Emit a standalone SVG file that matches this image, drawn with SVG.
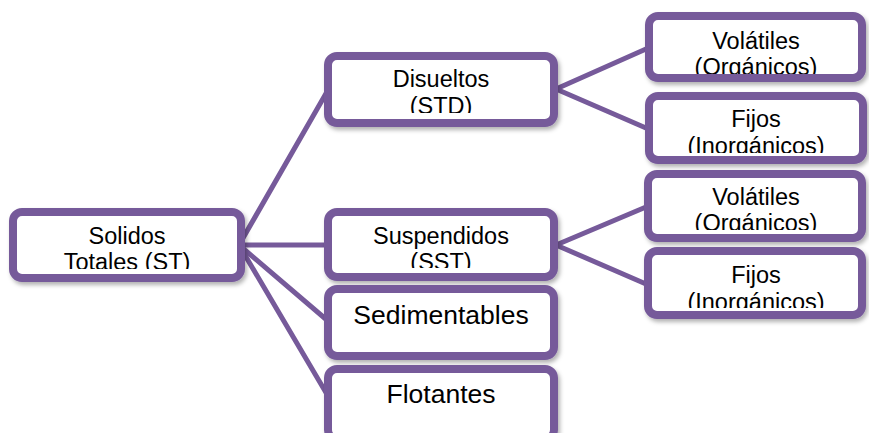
<svg xmlns="http://www.w3.org/2000/svg" width="869" height="433" viewBox="0 0 869 433">
<style>
.box{fill:#fff;stroke:#765a9a;stroke-width:8}
.t{font-family:"Liberation Sans",Arial,sans-serif;font-size:23.5px;fill:#000;text-anchor:middle}
.tb{font-family:"Liberation Sans",Arial,sans-serif;font-size:26.5px;fill:#000;text-anchor:middle}
.c{stroke:#765a9a;stroke-width:5;fill:none;stroke-linecap:round}
</style>
<defs>
<filter id="sh" x="-10%" y="-10%" width="125%" height="135%">
<feDropShadow dx="2" dy="3" stdDeviation="2" flood-color="#000" flood-opacity="0.3"/>
</filter>
<clipPath id="cST"><rect x="17" y="216" width="220" height="53"/></clipPath>
<clipPath id="cSTD"><rect x="331" y="58" width="220" height="55"/></clipPath>
<clipPath id="cSST"><rect x="331" y="216" width="220" height="52"/></clipPath>
<clipPath id="cV1"><rect x="651" y="18" width="210" height="56"/></clipPath>
<clipPath id="cF1"><rect x="651" y="98" width="210" height="55"/></clipPath>
<clipPath id="cV2"><rect x="651" y="176" width="210" height="54"/></clipPath>
<clipPath id="cF2"><rect x="651" y="253" width="210" height="55"/></clipPath>
</defs>
<g id="connectors">
<line class="c" x1="239" y1="245" x2="328" y2="90"/>
<line class="c" x1="239" y1="245" x2="328" y2="245"/>
<line class="c" x1="239" y1="245" x2="328" y2="321"/>
<line class="c" x1="239" y1="245" x2="328" y2="396"/>
<line class="c" x1="556" y1="89" x2="646" y2="49"/>
<line class="c" x1="556" y1="89" x2="646" y2="128"/>
<line class="c" x1="556" y1="245" x2="646" y2="207"/>
<line class="c" x1="556" y1="245" x2="646" y2="284"/>
</g>
<g id="solidos">
<rect class="box" filter="url(#sh)" x="13" y="212" width="228" height="66" rx="9"/>
<g clip-path="url(#cST)"><text class="t" x="127" y="244">Solidos</text><text class="t" x="127" y="270">Totales (ST)</text></g>
</g>
<g id="disueltos">
<rect class="box" filter="url(#sh)" x="328" y="56" width="226" height="67" rx="9"/>
<g clip-path="url(#cSTD)"><text class="t" x="441" y="87">Disueltos</text><text class="t" x="441" y="114">(STD)</text></g>
</g>
<g id="suspendidos">
<rect class="box" filter="url(#sh)" x="328" y="212" width="226" height="65" rx="9"/>
<g clip-path="url(#cSST)"><text class="t" x="441" y="244">Suspendidos</text><text class="t" x="441" y="270">(SST)</text></g>
</g>
<g id="sedimentables">
<rect class="box" filter="url(#sh)" x="328" y="289" width="226" height="67" rx="9"/>
<text class="tb" x="441" y="324">Sedimentables</text>
</g>
<g id="flotantes">
<rect class="box" filter="url(#sh)" x="328" y="369" width="226" height="70" rx="9"/>
<text class="tb" x="441" y="403">Flotantes</text>
</g>
<g id="volatiles1">
<rect class="box" filter="url(#sh)" x="649" y="16" width="213" height="62" rx="9"/>
<g clip-path="url(#cV1)"><text class="t" x="756" y="49">Volátiles</text><text class="t" x="756" y="75">(Orgánicos)</text></g>
</g>
<g id="fijos1">
<rect class="box" filter="url(#sh)" x="649" y="96" width="214" height="64" rx="9"/>
<g clip-path="url(#cF1)"><text class="t" x="756" y="127">Fijos</text><text class="t" x="756" y="154">(Inorgánicos)</text></g>
</g>
<g id="volatiles2">
<rect class="box" filter="url(#sh)" x="648" y="174" width="214" height="64" rx="9"/>
<g clip-path="url(#cV2)"><text class="t" x="756" y="205">Volátiles</text><text class="t" x="756" y="231">(Orgánicos)</text></g>
</g>
<g id="fijos2">
<rect class="box" filter="url(#sh)" x="648" y="251" width="214" height="64" rx="9"/>
<g clip-path="url(#cF2)"><text class="t" x="756" y="283">Fijos</text><text class="t" x="756" y="310">(Inorgánicos)</text></g>
</g>
</svg>
